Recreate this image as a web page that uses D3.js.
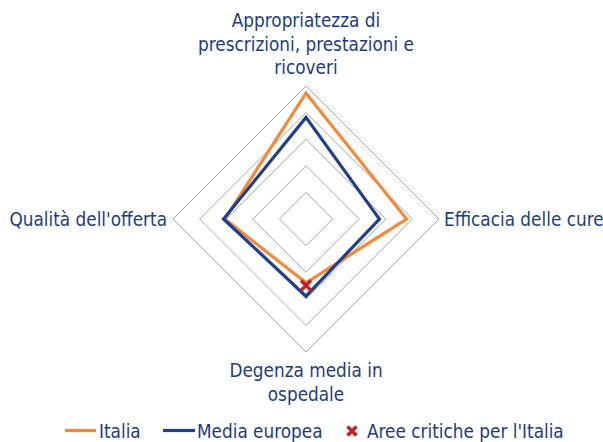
<!DOCTYPE html>
<html>
<head>
<meta charset="utf-8">
<script src="https://cdn.jsdelivr.net/npm/d3@7"></script>
<style>
  body { margin: 0; background: #fff; }
  text { font-family: "DejaVu Sans Condensed", "Liberation Sans", sans-serif; fill: #1f3d7c; font-size: 18.8px; }
</style>
</head>
<body>
<script>
// axes of the radar, clockwise from the top
var axes = [
    ["Appropriatezza di", "prescrizioni, prestazioni e", "ricoveri"],
    ["Efficacia delle cure"],
    ["Degenza media in", "ospedale"],
    ["Qualità dell'offerta"]
];

// values on a 0-5 scale
var italia = [4.73, 3.78, 2.4, 3.05];
var mediaEuropea = [3.82, 2.76, 2.9, 3.1];
var areeCritiche = [null, null, 2.5, null];

var levels = [1, 2, 3, 4, 5];

var width = 603,
    height = 442;

var cx = 306, cy = 219;

var svg = d3.select("body")
    .append("svg")
    .attr("width", width)
    .attr("height", height);

var r = d3.scaleLinear().domain([0, 5]).range([0, 133]);

var angle = function(i){ return i * Math.PI / 2; };

function point(v, i){
    return [cx + r(v) * Math.sin(angle(i)), cy - r(v) * Math.cos(angle(i))];
}

var line = d3.line();

// grid rings
svg.selectAll(".ring")
    .data(levels)
    .enter()
    .append("path")
    .attr("class", "ring")
    .attr("d", function(l){
        return line(axes.map(function(a, i){ return point(l, i); })) + "Z";
    })
    .attr("fill", "none")
    .attr("stroke", "#a6a6a6")
    .attr("stroke-width", 1);

// series
var series = [
    {values: italia, color: "#f5893a"},
    {values: mediaEuropea, color: "#203f8c"}
];

svg.selectAll(".serie")
    .data(series)
    .enter()
    .append("path")
    .attr("class", "serie")
    .attr("d", function(s){
        return line(s.values.map(point)) + "Z";
    })
    .attr("fill", "none")
    .attr("stroke", function(s){ return s.color; })
    .attr("stroke-width", 3.2)
    .attr("stroke-linejoin", "miter");

// critical markers
function cross(g, x, y, s){
    g.append("path")
        .attr("d", "M" + (x - s) + "," + (y - s) + "L" + (x + s) + "," + (y + s) +
                   "M" + (x + s) + "," + (y - s) + "L" + (x - s) + "," + (y + s))
        .attr("stroke", "#c0222c")
        .attr("stroke-width", 3.5)
        .attr("fill", "none");
}

areeCritiche.forEach(function(v, i){
    if (v == null) return;
    var p = point(v, i);
    cross(svg, p[0], p[1], 5);
});

// axis labels
var labelPos = [
    {x: 306, y: 27, anchor: "middle"},
    {x: 444, y: 226, anchor: "start"},
    {x: 306, y: 377, anchor: "middle"},
    {x: 167, y: 226, anchor: "end"}
];

svg.selectAll(".label")
    .data(axes)
    .enter()
    .append("text")
    .attr("class", "label")
    .attr("x", function(d, i){ return labelPos[i].x; })
    .attr("y", function(d, i){ return labelPos[i].y; })
    .attr("text-anchor", function(d, i){ return labelPos[i].anchor; })
    .each(function(d, i){
        var t = d3.select(this);
        d.forEach(function(s, k){
            t.append("tspan")
                .attr("x", labelPos[i].x)
                .attr("dy", k == 0 ? 0 : 23.7)
                .text(s);
        });
    });

// legend
var legend = svg.append("g");

legend.append("line").attr("x1", 65).attr("x2", 96).attr("y1", 430.5).attr("y2", 430.5)
    .attr("stroke", "#f5893a").attr("stroke-width", 3.2);
legend.append("text").attr("x", 99).attr("y", 438).text("Italia");

legend.append("line").attr("x1", 163).attr("x2", 195).attr("y1", 430.5).attr("y2", 430.5)
    .attr("stroke", "#203f8c").attr("stroke-width", 3.2);
legend.append("text").attr("x", 197).attr("y", 438).text("Media europea");

cross(legend, 352, 431, 4.5);
legend.append("text").attr("x", 367).attr("y", 438).text("Aree critiche per l'Italia");
</script>
</body>
</html>
